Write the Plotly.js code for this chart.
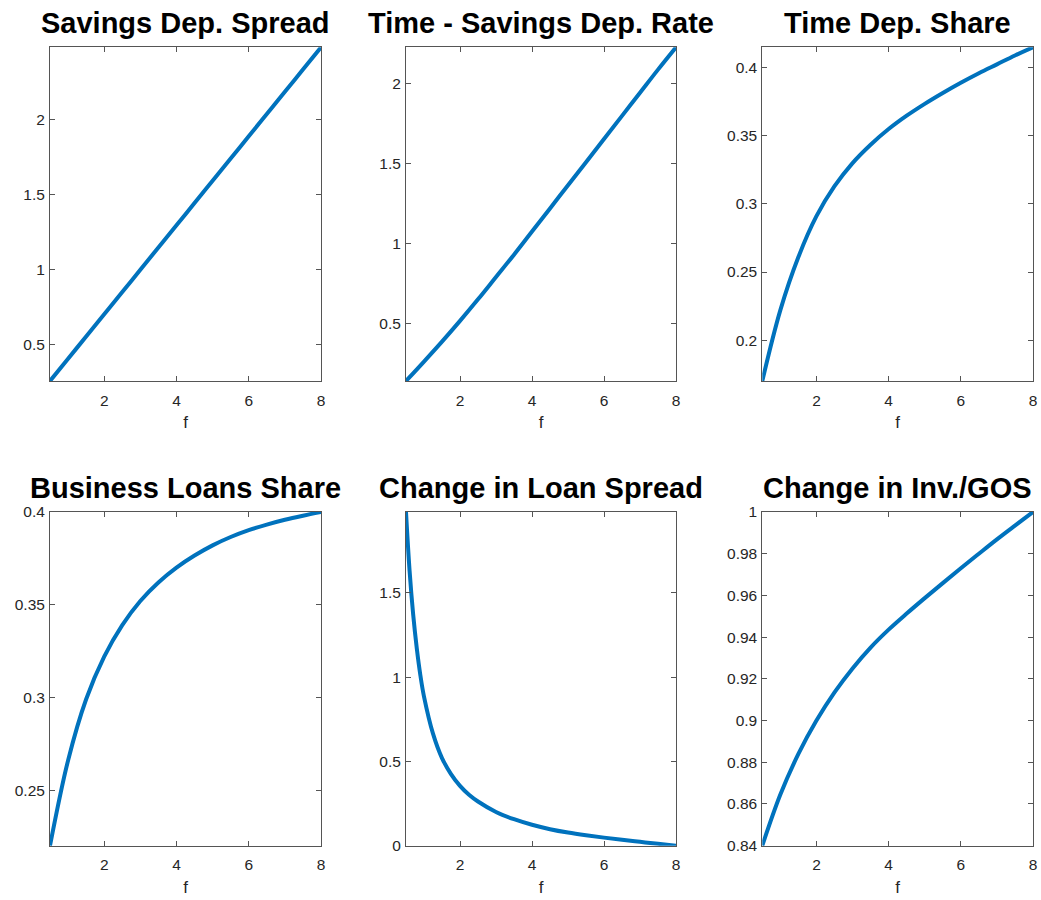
<!DOCTYPE html>
<html>
<head>
<meta charset="utf-8">
<script src="https://cdn.plot.ly/plotly-3.0.1.min.js"></script>
<style>
html,body{margin:0;padding:0;background:#fff;}
#chart{width:1041px;height:900px;}
</style>
</head>
<body>
<div id="chart"></div>
<script>
// ---- Data ----
const titles = ["Savings Dep. Spread", "Time - Savings Dep. Rate", "Time Dep. Share",
                "Business Loans Share", "Change in Loan Spread", "Change in Inv./GOS"];
const xLabel = "f";

const fGrid = [0.5, 1, 1.5, 2, 2.5, 3, 3.5, 4, 4.5, 5, 5.5, 6, 6.5, 7, 7.5, 8];
const fLoan = [0.5, 0.6, 0.7, 0.8, 0.9, 1.0, 1.25, 1.5, 1.75, 2, 2.25, 2.5, 3, 3.5, 4, 4.5, 5, 5.5, 6, 6.5, 7, 7.5, 8];

const savingsDepSpread = [0.255, 0.403, 0.552, 0.700, 0.848, 0.997, 1.145, 1.293, 1.442, 1.590, 1.738, 1.887, 2.035, 2.183, 2.332, 2.480];
const timeSavingsRate  = [0.138, 0.260, 0.385, 0.515, 0.650, 0.790, 0.930, 1.075, 1.220, 1.365, 1.510, 1.655, 1.800, 1.945, 2.090, 2.230];
const timeDepShare     = [0.170, 0.222, 0.261, 0.291, 0.313, 0.330, 0.3435, 0.355, 0.3648, 0.3735, 0.3815, 0.389, 0.396, 0.4025, 0.409, 0.415];
const businessLoans    = [0.220, 0.266, 0.299, 0.322, 0.339, 0.352, 0.362, 0.370, 0.3765, 0.382, 0.3865, 0.3902, 0.3932, 0.3958, 0.398, 0.400];
const loanSpread       = [1.98, 1.63, 1.37, 1.17, 1.01, 0.885, 0.665, 0.52, 0.425, 0.355, 0.302, 0.262, 0.200, 0.157, 0.124, 0.098, 0.078, 0.062, 0.048, 0.035, 0.023, 0.011, 0.0];
const invGos           = [0.840, 0.8645, 0.884, 0.900, 0.9135, 0.925, 0.935, 0.9436, 0.9513, 0.9587, 0.9659, 0.973, 0.980, 0.9869, 0.9935, 1.000];

const xTicks = [2, 4, 6, 8];
const yTicks1 = [0.5, 1, 1.5, 2];
const yTicks2 = [0.5, 1, 1.5, 2];
const yTicks3 = [0.2, 0.25, 0.3, 0.35, 0.4];
const yTicks4 = [0.25, 0.3, 0.35, 0.4];
const yTicks5 = [0, 0.5, 1, 1.5];
const yTicks6 = [0.84, 0.86, 0.88, 0.9, 0.92, 0.94, 0.96, 0.98, 1];
const yTickText6 = ["0.84", "0.86", "0.88", "0.9", "0.92", "0.94", "0.96", "0.98", "1"];

// ---- Layout geometry ----
const W = 1041, H = 900;
const xDomains = [[50/W, 321/W], [406/W, 676/W], [762.3/W, 1033/W]];
const yDomains = [[1 - 381/H, 1 - 47.3/H], [1 - 845.7/H, 1 - 512/H]];

const series = [
  {x: fGrid, y: savingsDepSpread, yr: [0.255, 2.48], yt: yTicks1},
  {x: fGrid, y: timeSavingsRate,  yr: [0.138, 2.23], yt: yTicks2},
  {x: fGrid, y: timeDepShare,     yr: [0.17, 0.415], yt: yTicks3},
  {x: fGrid, y: businessLoans,    yr: [0.22, 0.40],  yt: yTicks4},
  {x: fLoan, y: loanSpread,       yr: [0, 1.98],     yt: yTicks5},
  {x: fGrid, y: invGos,           yr: [0.84, 1.0],   yt: yTicks6, ytt: yTickText6}
];

const font = "Liberation Sans, Arial, Helvetica, sans-serif";
const axisColor = "#555555";
const tickFontColor = "#262626";

const data = [];
const layout = {
  width: W, height: H,
  margin: {l: 0, r: 0, t: 0, b: 0},
  paper_bgcolor: "#fff", plot_bgcolor: "#fff",
  showlegend: false,
  font: {family: font, size: 15.5, color: tickFontColor},
  annotations: []
};

series.forEach((s, i) => {
  const n = i + 1;
  const col = i % 3, row = Math.floor(i / 3);
  const xa = n === 1 ? "x" : "x" + n;
  const ya = n === 1 ? "y" : "y" + n;
  data.push({
    type: "scatter", mode: "lines",
    x: s.x, y: s.y, xaxis: xa, yaxis: ya,
    line: {color: "#0072BD", width: 4, shape: "spline", smoothing: 1},
    hoverinfo: "x+y"
  });
  const common = {
    showline: true, linecolor: axisColor, linewidth: 1,
    mirror: "ticks", ticks: "inside", ticklen: 5, tickwidth: 1, tickcolor: axisColor,
    showgrid: false, zeroline: false,
    tickfont: {family: font, size: 15.5, color: tickFontColor}
  };
  layout["xaxis" + (n === 1 ? "" : n)] = Object.assign({}, common, {
    domain: xDomains[col], anchor: ya, range: [0.5, 8],
    tickmode: "array", tickvals: xTicks,
    ticklabelstandoff: 5,
    title: {text: xLabel, font: {family: font, size: 17, color: tickFontColor}, standoff: 8}
  });
  const yax = Object.assign({}, common, {
    domain: yDomains[row], anchor: xa, range: s.yr,
    tickmode: "array", tickvals: s.yt,
    ticklabelstandoff: 1
  });
  if (s.ytt) yax.ticktext = s.ytt;
  layout["yaxis" + (n === 1 ? "" : n)] = yax;

  layout.annotations.push({
    text: "<b>" + titles[i] + "</b>",
    xref: "paper", yref: "paper",
    x: (xDomains[col][0] + xDomains[col][1]) / 2,
    y: yDomains[row][1] + 24/H,
    xanchor: "center", yanchor: "middle",
    showarrow: false,
    font: {family: font, size: 29, color: "#000"}
  });
});

Plotly.newPlot("chart", data, layout, {displayModeBar: false, staticPlot: true});
</script>
</body>
</html>
